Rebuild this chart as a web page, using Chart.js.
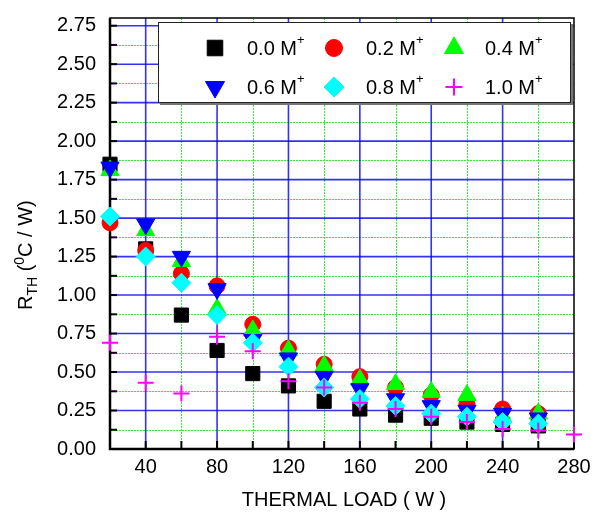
<!DOCTYPE html>
<html>
<head>
<meta charset="utf-8">
<script src="https://cdn.jsdelivr.net/npm/chart.js@4"></script>
<style>
  body { margin: 0; background: #fff; }
  canvas { display: block; }
</style>
</head>
<body>
<canvas id="rthChart" width="605" height="517"></canvas>
<script>
// thermal load (W)
const loads = [20, 40, 60, 80, 100, 120, 140, 160, 180, 200, 220, 240, 260]
const loads10 = [20, 40, 60, 80, 100, 120, 140, 160, 180, 200, 220, 240, 260, 280]

// thermal resistance R_TH (C/W), one list per concentration
const rth00 = [1.85, 1.30, 0.87, 0.64, 0.49, 0.41, 0.31, 0.26, 0.22, 0.20, 0.175, 0.16, 0.15]
const rth02 = [1.47, 1.29, 1.14, 1.06, 0.81, 0.655, 0.55, 0.47, 0.40, 0.35, 0.29, 0.26, 0.23]
const rth04 = [1.81, 1.42, 1.22, 0.91, 0.77, 0.64, 0.54, 0.45, 0.42, 0.37, 0.35, 0.21, 0.23]
const rth06 = [1.83, 1.46, 1.25, 1.04, 0.71, 0.59, 0.47, 0.39, 0.325, 0.28, 0.25, 0.23, 0.20]
const rth08 = [1.51, 1.25, 1.08, 0.87, 0.69, 0.535, 0.40, 0.325, 0.28, 0.23, 0.21, 0.175, 0.165]
const rth10 = [0.69, 0.43, 0.36, 0.73, 0.635, 0.44, 0.40, 0.30, 0.26, 0.21, 0.175, 0.13, 0.12, 0.095]

const seriesLabels = ['0.0 M', '0.2 M', '0.4 M', '0.6 M', '0.8 M', '1.0 M']

const xTickLabels = [40, 80, 120, 160, 200, 240, 280]
const yTickLabels = [0, 0.25, 0.5, 0.75, 1, 1.25, 1.5, 1.75, 2, 2.25, 2.5, 2.75]

const FONT = "'Liberation Sans', Arial, sans-serif"

const toPoints = (xs, ys) => xs.map((x, i) => ({ x: x, y: ys[i] }))

// marker look per series
const markers = [
    { style: 'rect', color: '#000000', radius: 10, rot: 0 },
    { style: 'circle', color: '#ff0000', radius: 8, rot: 0 },
    { style: 'triangle', color: '#00ff00', radius: 10.5, rot: 0 },
    { style: 'triangle', color: '#0000ff', radius: 10.5, rot: 180 },
    { style: 'rectRot', color: '#00ffff', radius: 9.5, rot: 0 },
    { style: 'cross', color: '#ff00ff', radius: 8, rot: 0 }
]
const seriesData = [
    toPoints(loads, rth00),
    toPoints(loads, rth02),
    toPoints(loads, rth04),
    toPoints(loads, rth06),
    toPoints(loads, rth08),
    toPoints(loads10, rth10)
]

//grid lines, ticks and frame drawn by hand (blue major, green dotted minor)
const gridPlugin = {
    id: 'gridPlugin',
    beforeDatasetsDraw(chart) {
        const { ctx, chartArea: a, scales: { x, y } } = chart
        ctx.save()
        // minor dotted green
        ctx.strokeStyle = '#33ee33'
        ctx.lineWidth = 1
        ctx.setLineDash([2, 1])
        for (let v = 60; v < 280; v += 40) {
            const px = Math.round(x.getPixelForValue(v)) + 0.5
            ctx.beginPath(); ctx.moveTo(px, a.top); ctx.lineTo(px, a.bottom); ctx.stroke()
        }
        for (let v = 0.125; v < 2.8; v += 0.25) {
            const py = Math.round(y.getPixelForValue(v)) + 0.5
            ctx.beginPath(); ctx.moveTo(a.left, py); ctx.lineTo(a.right, py); ctx.stroke()
        }
        // major blue
        ctx.setLineDash([])
        ctx.strokeStyle = 'rgba(0, 0, 235, 0.8)'
        ctx.lineWidth = 1.6
        for (let v = 40; v < 280; v += 40) {
            const px = x.getPixelForValue(v)
            ctx.beginPath(); ctx.moveTo(px, a.top); ctx.lineTo(px, a.bottom); ctx.stroke()
        }
        for (let v = 0.25; v < 2.8; v += 0.25) {
            const py = y.getPixelForValue(v)
            ctx.beginPath(); ctx.moveTo(a.left, py); ctx.lineTo(a.right, py); ctx.stroke()
        }
        // inward tick marks
        ctx.strokeStyle = '#000'
        ctx.lineWidth = 2
        for (let v = 20; v <= 280; v += 20) {
            const px = x.getPixelForValue(v)
            ctx.beginPath(); ctx.moveTo(px, a.bottom); ctx.lineTo(px, a.bottom - 8); ctx.stroke()
        }
        for (let v = 0; v < 2.8; v += 0.125) {
            const py = y.getPixelForValue(v)
            ctx.beginPath(); ctx.moveTo(a.left, py); ctx.lineTo(a.left + 7, py); ctx.stroke()
        }
        // frame
        ctx.lineWidth = 1.5
        ctx.strokeRect(a.left, a.top, a.right - a.left, a.bottom - a.top)
        ctx.lineWidth = 2.5
        ctx.beginPath()
        ctx.moveTo(a.left, a.top); ctx.lineTo(a.left, a.bottom); ctx.lineTo(a.right, a.bottom)
        ctx.stroke()
        // x tick labels and title
        ctx.fillStyle = '#000'
        ctx.font = '20px ' + FONT
        ctx.textAlign = 'center'
        ctx.textBaseline = 'middle'
        xTickLabels.forEach(v => {
            ctx.fillText(String(v), x.getPixelForValue(v), a.bottom + 18)
        })
        ctx.fillText('THERMAL LOAD ( W )', 344, 500)
        ctx.restore()
    }
}

// draws a label like "0.0 M" followed by a small raised "+"
function drawSupText(ctx, text, sup, x, y) {
    ctx.font = '20px ' + FONT
    ctx.fillText(text, x, y)
    const w = ctx.measureText(text).width
    ctx.font = '13px ' + FONT
    ctx.fillText(sup, x + w, y - 9)
}

const legendPlugin = {
    id: 'boxLegend',
    afterDatasetsDraw(chart) {
        const ctx = chart.ctx
        ctx.save()
        ctx.fillStyle = '#fff'
        ctx.fillRect(158, 22, 413, 81)
        ctx.fillStyle = '#777'
        ctx.fillRect(160, 103, 413, 2)
        ctx.fillRect(571, 24, 2, 81)
        ctx.strokeStyle = '#222'
        ctx.lineWidth = 1
        ctx.strokeRect(158.5, 22.5, 412, 80)
        const markX = [215, 334, 454]
        const textX = [247, 366, 485]
        const rowY = [48, 87]
        markers.forEach((m, i) => {
            const col = i % 3
            const row = Math.floor(i / 3)
            ctx.fillStyle = m.color
            ctx.strokeStyle = m.color
            ctx.lineWidth = m.style === 'cross' ? 2 : 1
            Chart.helpers.drawPoint(ctx, {
                pointStyle: m.style,
                rotation: m.rot,
                radius: m.radius + (m.style === 'rect' ? 1 : 0.5),
                borderWidth: ctx.lineWidth
            }, markX[col], rowY[row])
            ctx.fillStyle = '#000'
            ctx.textBaseline = 'middle'
            ctx.textAlign = 'left'
            drawSupText(ctx, seriesLabels[i], '+', textX[col], rowY[row] + 1)
        })
        ctx.restore()
    }
}

// y title with subscript TH and superscript 0
const yTitlePlugin = {
    id: 'yTitle',
    afterDraw(chart) {
        const ctx = chart.ctx
        ctx.save()
        ctx.translate(32, 310)
        ctx.rotate(-Math.PI / 2)
        ctx.fillStyle = '#000'
        ctx.textBaseline = 'alphabetic'
        ctx.textAlign = 'left'
        const parts = [
            { t: 'R', size: 20, dy: 0 },
            { t: 'TH', size: 14, dy: 5 },
            { t: ' (', size: 20, dy: 0 },
            { t: '0', size: 14, dy: -8 },
            { t: 'C / W)', size: 20, dy: 0 }
        ]
        let cx = 0
        parts.forEach(p => {
            ctx.font = p.size + 'px ' + FONT
            ctx.fillText(p.t, cx, p.dy)
            cx += ctx.measureText(p.t).width
        })
        ctx.restore()
    }
}

const ctx = document.getElementById('rthChart').getContext('2d')
new Chart(ctx, {
    type: 'scatter',
    data: {
        datasets: markers.map((m, i) => ({
            label: seriesLabels[i] + '+',
            data: seriesData[i],
            pointStyle: m.style,
            pointRadius: m.radius,
            pointHoverRadius: m.radius,
            pointRotation: m.rot,
            backgroundColor: m.color,
            borderColor: m.color,
            borderWidth: m.style === 'cross' ? 2 : 1,
            clip: false,
            order: markers.length - i
        }))
    },
    options: {
        responsive: false,
        animation: false,
        layout: { padding: { top: 13, right: 31, left: 0, bottom: 0 } },
        plugins: {
            legend: { display: false },
            tooltip: { enabled: false }
        },
        scales: {
            x: {
                type: 'linear',
                min: 20,
                max: 280,
                afterBuildTicks: s => { s.ticks = xTickLabels.map(v => ({ value: v })) },
                afterFit: s => { s.height = 68 },
                grid: { display: false },
                border: { display: false },
                ticks: { display: false }
            },
            y: {
                min: 0,
                max: 2.8,
                afterBuildTicks: s => { s.ticks = yTickLabels.map(v => ({ value: v })) },
                afterFit: s => { s.width = 110 },
                grid: { display: false },
                border: { display: false },
                ticks: {
                    font: { family: FONT, size: 20 },
                    color: '#000',
                    padding: 6,
                    autoSkip: false,
                    callback: v => v.toFixed(2)
                }
            }
        }
    },
    plugins: [gridPlugin, legendPlugin, yTitlePlugin]
})
</script>
</body>
</html>
